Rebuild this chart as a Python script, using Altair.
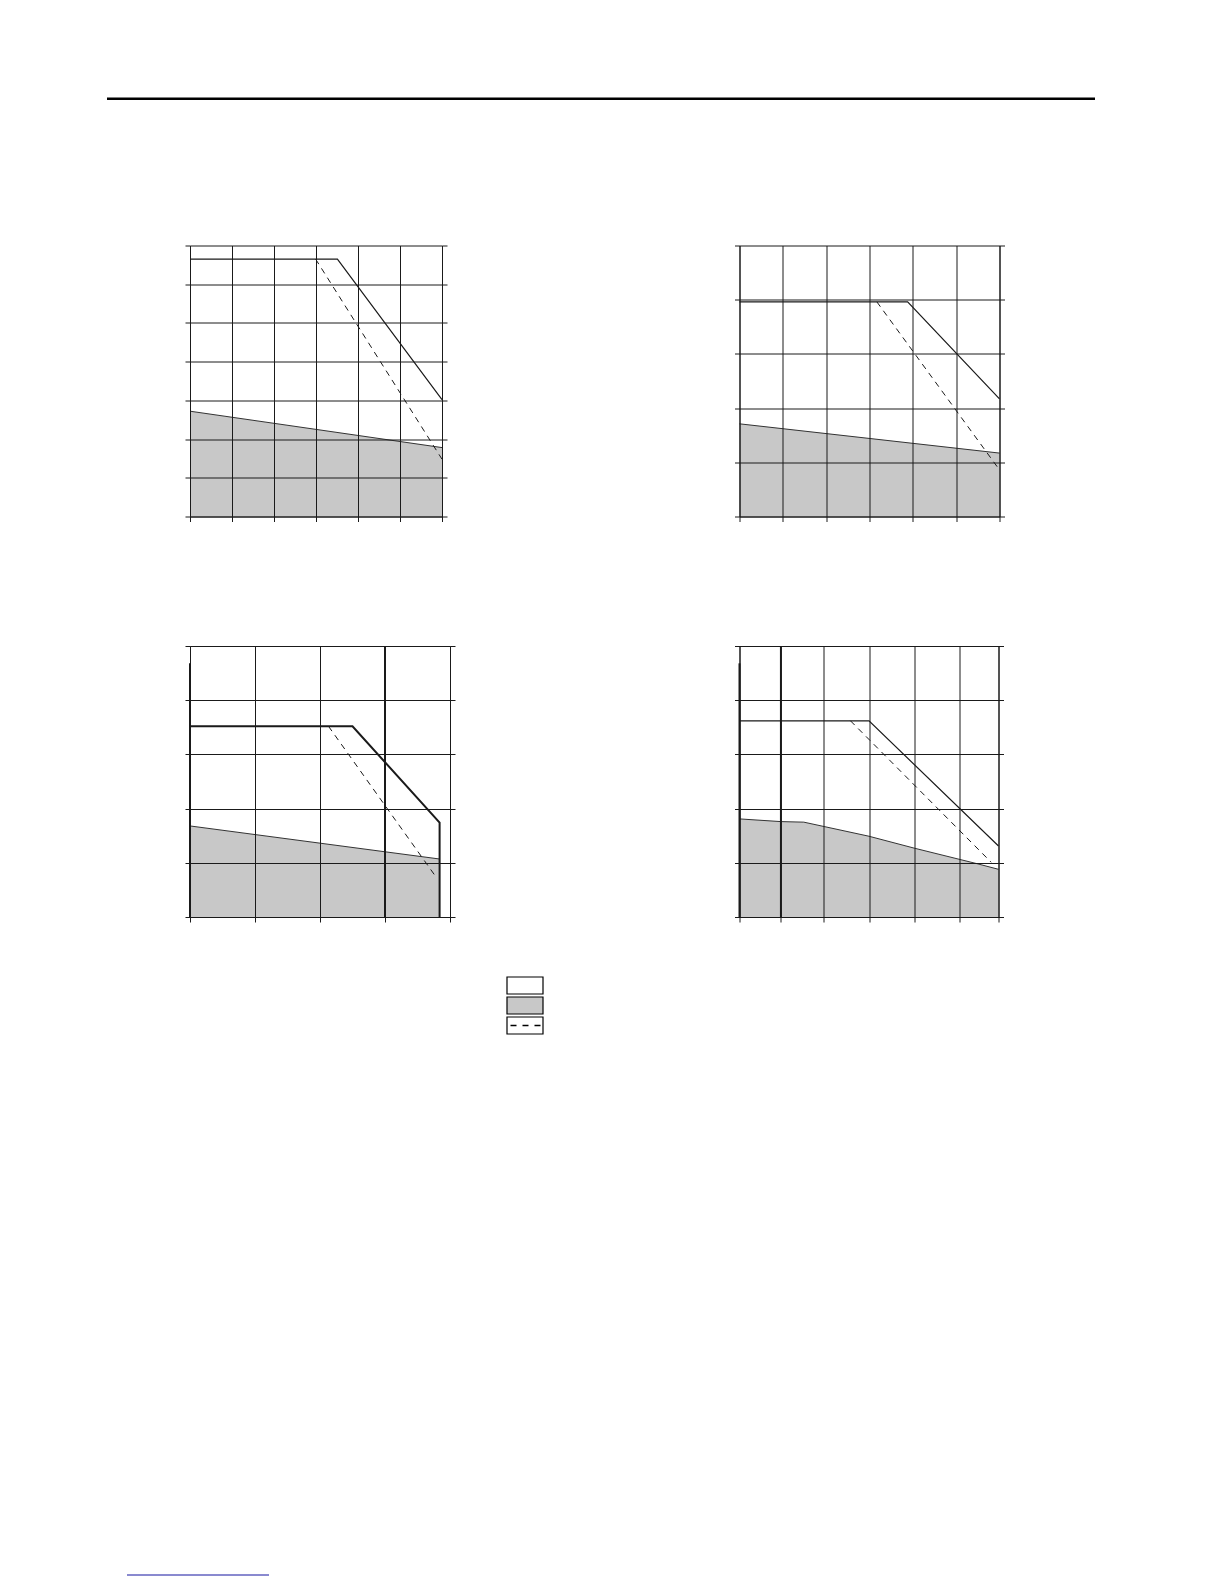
import altair as alt
import pandas as pd

# ---------------- data ----------------
# panel 1 (top left)
p1_xgrid = [0, 1, 2, 3, 4, 5, 6]
p1_ygrid = [0, 1, 2, 3, 4, 5, 6, 7]
p1_solid_x = [0, 3.51, 6.0]
p1_solid_y = [6.65, 6.65, 3.02]
p1_dash_x = [2.99, 6.0]
p1_dash_y = [6.65, 1.48]
p1_gray_x = [0, 6.0]
p1_gray_y = [2.72, 1.78]
p1_thick_x = []
p1_thick_y0 = []
p1_thick_y1 = []

# panel 2 (top right)
p2_xgrid = [0, 1, 2, 3, 4, 5, 6]
p2_ygrid = [0, 1, 2, 3, 4, 5]
p2_solid_x = [0, 3.88, 6.0]
p2_solid_y = [3.96, 3.96, 2.17]
p2_dash_x = [3.17, 6.0]
p2_dash_y = [3.96, 0.86]
p2_gray_x = [0, 6.0]
p2_gray_y = [1.71, 1.17]
p2_thick_x = []
p2_thick_y0 = []
p2_thick_y1 = []

# panel 3 (bottom left)
p3_xgrid = [0, 1, 2, 3, 4]
p3_ygrid = [0, 1, 2, 3, 4, 5]
p3_solid_x = [0, 2.5, 3.84, 3.84]
p3_solid_y = [3.52, 3.52, 1.74, 0]
p3_dash_x = [2.13, 3.79]
p3_dash_y = [3.52, 0.73]
p3_gray_x = [0, 3.84]
p3_gray_y = [1.68, 1.07]
p3_thick_x = [0, 3]
p3_thick_y0 = [0, 0]
p3_thick_y1 = [4.68, 5]

# panel 4 (bottom right)
p4_xgrid = [0, 0.96, 1.94, 3.01, 4.05, 5.09, 6]
p4_ygrid = [0, 1, 2, 3, 4, 5]
p4_solid_x = [0, 3.0, 6.0]
p4_solid_y = [3.62, 3.62, 1.31]
p4_dash_x = [2.57, 5.83]
p4_dash_y = [3.62, 1.01]
p4_gray_x = [0, 0.96, 1.49, 3.0, 4.05, 5.52, 6.0]
p4_gray_y = [1.81, 1.76, 1.75, 1.49, 1.27, 0.98, 0.88]
p4_thick_x = [0, 0.96]
p4_thick_y0 = [0, 0]
p4_thick_y1 = [4.68, 5]

# legend entries (key boxes, no text in the reference)
legend_kinds = ["open", "gray", "dashed"]
legend_fills = ["#ffffff", "#c8c8c8", "#ffffff"]

# ---------------- styles ----------------
INK = "#1a1a1a"
GRAY = "#c8c8c8"


def make_panel(xgrid, ygrid, sx, sy, dx, dy, gx, gy, tx, ty0, ty1,
               w, h, solid_width, extra=(), overlay=None):
    xsc = alt.Scale(domain=[xgrid[0], xgrid[-1]], nice=False, zero=False)
    ysc = alt.Scale(domain=[ygrid[0], ygrid[-1]], nice=False, zero=False)
    xax = alt.Axis(values=xgrid, labels=False, title=None, grid=True,
                   ticks=True, domain=True, zindex=1)
    yleft = alt.Axis(values=ygrid, labels=False, title=None, grid=True,
                     orient="left", zindex=1)
    yright = alt.Axis(values=ygrid, labels=False, title=None, grid=False,
                      orient="right", zindex=1)

    gray_df = pd.DataFrame({"x": gx, "y": gy})
    solid_df = pd.DataFrame({"x": sx, "y": sy, "i": list(range(len(sx)))})
    dash_df = pd.DataFrame({"x": dx, "y": dy})

    layers = [
        alt.Chart(gray_df).mark_area(
            color=GRAY, opacity=1, fillOpacity=1,
            line={"color": "#333333", "strokeWidth": 1}
        ).encode(
            x=alt.X("x:Q", scale=xsc, axis=xax),
            y=alt.Y("y:Q", scale=ysc, axis=yleft),
        ),
        alt.Chart(solid_df).mark_line(color=INK, strokeWidth=solid_width).encode(
            x=alt.X("x:Q", scale=xsc, axis=xax),
            y=alt.Y("y:Q", scale=ysc, axis=yright),
            order="i:Q",
        ),
        alt.Chart(dash_df).mark_line(color=INK, strokeWidth=1, strokeDash=[6, 5]).encode(
            x=alt.X("x:Q", scale=xsc, axis=xax),
            y=alt.Y("y:Q", scale=ysc, axis=None),
        ),
    ]
    if tx:
        thick_df = pd.DataFrame({"x": tx, "y0": ty0, "y1": ty1})
        layers.append(
            alt.Chart(thick_df).mark_rule(color=INK, strokeWidth=2).encode(
                x=alt.X("x:Q", scale=xsc, axis=xax),
                y=alt.Y("y0:Q", scale=ysc, axis=None),
                y2="y1:Q",
            )
        )
    layers.extend(extra)
    main = alt.layer(*layers).resolve_axis(y="independent")
    if overlay is not None:
        main = alt.layer(main, overlay).resolve_scale(y="independent")
    return main.properties(width=w, height=h)


one_row = pd.DataFrame({"a": [0]})

# page rule at the top (decoration, drawn relative to panel 1)
header = alt.Chart(one_row).mark_rect(color="black").encode(
    x=alt.value(-83), x2=alt.value(905), y=alt.value(-148), y2=alt.value(-145.5)
)

# footer link underline (decoration)
footer = alt.Chart(one_row).mark_rule(color="#1414a0", strokeWidth=1).encode(
    x=alt.value(-63), x2=alt.value(79), y=alt.value(929)
)

# legend key boxes below panel 3 (band scale places the three boxes)
legend_df = pd.DataFrame({"kind": legend_kinds})
leg_y = alt.Scale(domain=legend_kinds, range=[331, 388], paddingInner=0.15, paddingOuter=0)
legend_boxes = alt.Chart(legend_df).mark_rect(stroke="black", strokeWidth=1.2).encode(
    x=alt.value(317), x2=alt.value(353),
    y=alt.Y("kind:N", scale=leg_y, axis=None),
    fill=alt.Fill("kind:N", scale=alt.Scale(domain=legend_kinds, range=legend_fills), legend=None),
)
legend_dash = alt.Chart(legend_df[legend_df["kind"] == "dashed"]).mark_rule(
    color="black", strokeWidth=1.4, strokeDash=[6, 6]
).encode(
    x=alt.value(320.5), x2=alt.value(351),
    y=alt.Y("kind:N", scale=leg_y, axis=None, bandPosition=0.5),
)
legend_part = alt.layer(legend_boxes, legend_dash)

p1 = make_panel(p1_xgrid, p1_ygrid, p1_solid_x, p1_solid_y, p1_dash_x, p1_dash_y,
                p1_gray_x, p1_gray_y, p1_thick_x, p1_thick_y0, p1_thick_y1,
                252, 271, 1.2, extra=[header])
p2 = make_panel(p2_xgrid, p2_ygrid, p2_solid_x, p2_solid_y, p2_dash_x, p2_dash_y,
                p2_gray_x, p2_gray_y, p2_thick_x, p2_thick_y0, p2_thick_y1,
                260, 271, 1.2)
p3 = make_panel(p3_xgrid, p3_ygrid, p3_solid_x, p3_solid_y, p3_dash_x, p3_dash_y,
                p3_gray_x, p3_gray_y, p3_thick_x, p3_thick_y0, p3_thick_y1,
                260, 271, 2.0, extra=[footer], overlay=legend_part)
p4 = make_panel(p4_xgrid, p4_ygrid, p4_solid_x, p4_solid_y, p4_dash_x, p4_dash_y,
                p4_gray_x, p4_gray_y, p4_thick_x, p4_thick_y0, p4_thick_y1,
                259, 271, 1.2)

chart = alt.concat(
    p1, p2, p3, p4, columns=2,
    spacing={"row": 129.5, "column": 289.5}, bounds="flush",
).properties(
    padding={"left": 99, "top": 89.5, "right": 10, "bottom": 5},
    background="white",
).configure_view(stroke=None).configure_axis(
    gridColor=INK, gridWidth=1, gridOpacity=1,
    domainColor=INK, domainWidth=1,
    tickColor=INK, tickSize=5, tickWidth=1,
)

chart.save("out.html", embed_options={"renderer": "svg", "actions": False})
